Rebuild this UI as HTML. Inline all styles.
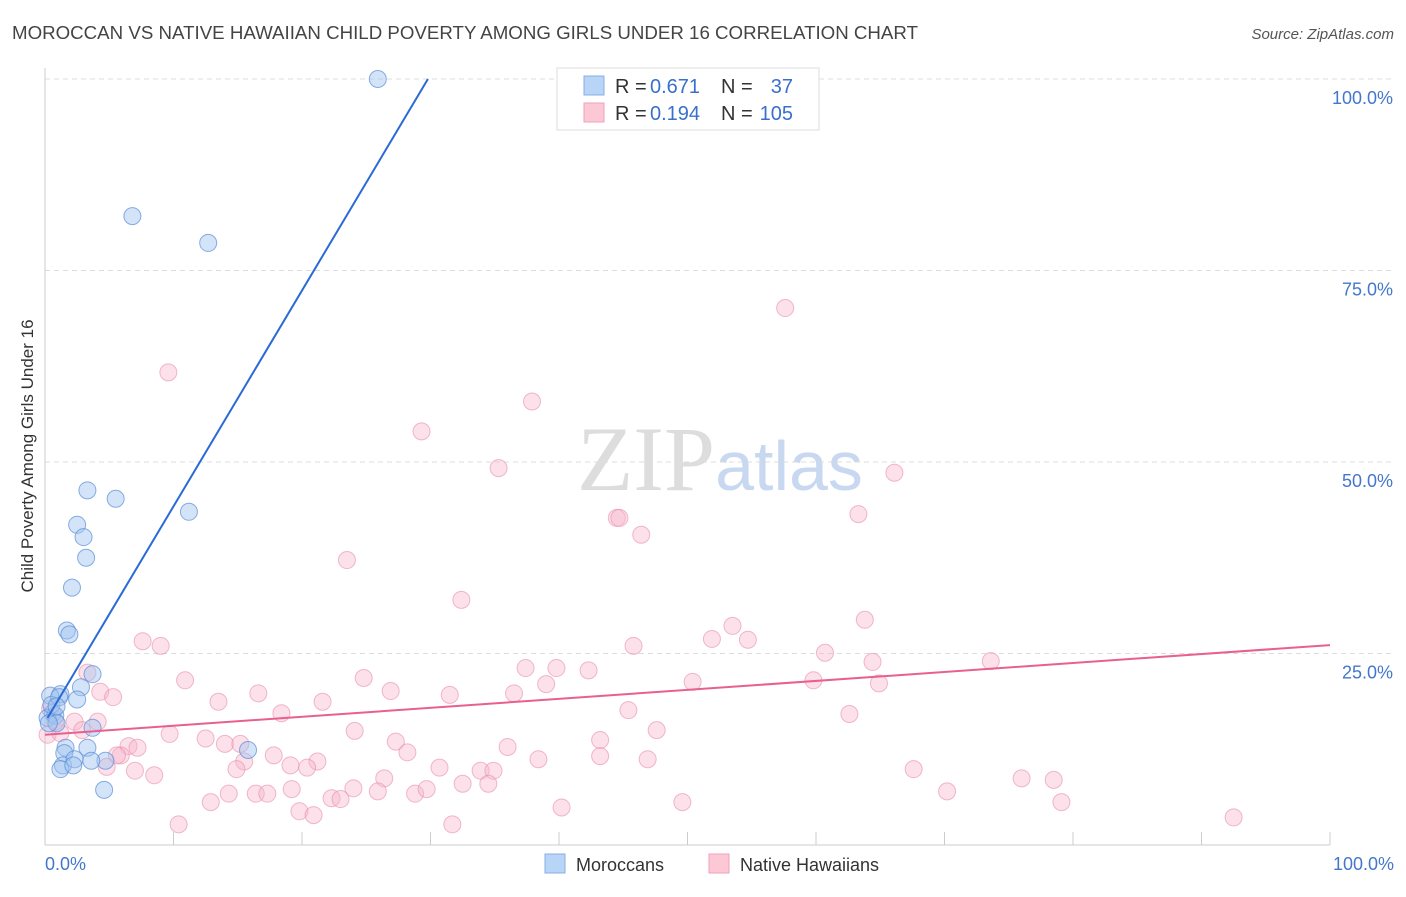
<!DOCTYPE html>
<html><head><meta charset="utf-8"><style>
body{margin:0;background:#fff;font-family:"Liberation Sans",sans-serif;}
svg text{font-family:"Liberation Sans",sans-serif;}
</style></head><body>
<svg id="chart" width="1406" height="892" xmlns="http://www.w3.org/2000/svg">
<text x="12" y="39" font-size="18" fill="#444" textLength="906" lengthAdjust="spacingAndGlyphs">MOROCCAN VS NATIVE HAWAIIAN CHILD POVERTY AMONG GIRLS UNDER 16 CORRELATION CHART</text>
<text x="1394" y="39" font-size="15" fill="#555" text-anchor="end" font-style="italic">Source: ZipAtlas.com</text>
<text x="720" y="490" font-size="92" text-anchor="middle"><tspan font-family="Liberation Serif,serif" fill="#ddd">ZIP</tspan><tspan fill="#c8d8f0" font-size="70">atlas</tspan></text>
<g id="grid"></g>
<line x1="45" y1="68" x2="45" y2="845" stroke="#ccc"/>
<line x1="45" y1="845" x2="1330" y2="845" stroke="#ccc"/>
<text transform="translate(33,456) rotate(-90)" font-size="17" fill="#333" text-anchor="middle">Child Poverty Among Girls Under 16</text>
<text x="45" y="870" font-size="18" fill="#4477cc">0.0%</text>
<text x="1394" y="870" font-size="18" fill="#4477cc" text-anchor="end">100.0%</text>
<g id="points"></g>
<g id="lines"></g>
<g>
<rect x="557" y="68" width="262" height="62" fill="#fff" stroke="#ddd"/>
<rect x="584" y="76" width="20" height="19" fill="#b8d4f6" stroke="#88aee6"/>
<rect x="584" y="103" width="20" height="19" fill="#fcc8d6" stroke="#f0a0bb"/>
<text x="615" y="93" font-size="20" fill="#333">R =</text>
<text x="650" y="93" font-size="20" fill="#3a70cc">0.671</text>
<text x="721" y="93" font-size="20" fill="#333">N =</text>
<text x="793" y="93" font-size="20" fill="#3a70cc" text-anchor="end">37</text>
<text x="615" y="120" font-size="20" fill="#333">R =</text>
<text x="650" y="120" font-size="20" fill="#3a70cc">0.194</text>
<text x="721" y="120" font-size="20" fill="#333">N =</text>
<text x="793" y="120" font-size="20" fill="#3a70cc" text-anchor="end">105</text>
</g>
<g>
<rect x="545" y="854" width="20" height="19" fill="#b8d4f6" stroke="#88aee6"/>
<text x="576" y="871" font-size="18" fill="#333">Moroccans</text>
<rect x="709" y="854" width="20" height="19" fill="#fcc8d6" stroke="#f0a0bb"/>
<text x="740" y="871" font-size="18" fill="#333">Native Hawaiians</text>
</g>
</svg>
<script>
const yTicks=[25,50,75,100];
const yTickLabels=["25.0%","50.0%","75.0%","100.0%"];
const xTicks=[10,20,30,40,50,60,70,80,90,100];
const blueX=[25.9,6.8,12.7,3.3,5.5,11.2,2.5,3.0,3.2,2.1,1.7,1.9,3.7,2.8,1.2,0.4,2.5,0.6,0.2,0.8,0.9,3.7,1.6,3.3,1.5,4.7,3.6,1.4,2.3,1.2,2.2,4.6,15.8,0.5,0.3,1.1,0.9];
const blueY=[100,82.1,78.6,46.3,45.2,43.5,41.8,40.2,37.5,33.6,28.0,27.5,22.3,20.6,19.7,19.5,19.0,17.2,16.6,16.9,15.9,15.3,12.7,12.7,12.0,11.0,11.0,10.4,11.2,9.9,10.4,7.2,12.4,18.3,15.9,19.3,18.1];
const pinkX=[57.6,9.6,37.9,29.3,35.3,66.1,44.5,44.7,46.4,63.3,23.5,32.4,7.6,9.0,45.8,51.9,53.5,54.7,63.8,60.7,64.4,73.6,64.9,59.8,50.4,10.9,24.8,37.4,39.8,42.3,39.0,36.5,31.5,26.9,21.6,16.6,13.5,4.3,5.3,3.3,45.4,47.6,62.6,18.4,0.2,2.3,1.2,2.9,6.5,7.2,5.9,5.6,4.8,7.0,8.5,9.7,12.5,14.0,15.2,15.5,14.9,17.8,21.2,19.1,20.4,24.1,27.3,28.2,30.7,33.9,34.9,36.0,38.4,43.2,43.2,46.9,26.4,24.0,25.9,28.8,29.7,32.5,34.5,16.4,17.3,19.2,22.3,23.0,19.8,20.9,12.9,14.3,40.2,49.6,67.6,70.2,76.0,78.5,79.1,92.5,10.4,31.7,0.8,0.4,4.1];
const pinkY=[70.1,61.7,57.9,54.0,49.2,48.6,42.7,42.7,40.5,43.2,37.2,32.0,26.6,26.0,26.0,26.9,28.6,26.8,29.4,25.1,23.9,24.0,21.1,21.5,21.3,21.5,21.8,23.1,23.1,22.8,21.0,19.8,19.6,20.1,18.7,19.8,18.7,20.0,19.3,22.5,17.6,15.0,17.1,17.2,14.4,16.1,14.6,15.0,12.9,12.7,11.7,11.7,10.2,9.7,9.1,14.5,13.9,13.2,13.2,10.9,9.9,11.7,10.9,10.4,10.1,14.9,13.5,12.1,10.1,9.7,9.7,12.8,11.2,13.7,11.6,11.2,8.7,7.4,7.0,6.7,7.3,8.0,8.0,6.7,6.7,7.3,6.1,6.0,4.4,3.9,5.6,6.7,4.9,5.6,9.9,7.0,8.7,8.5,5.6,3.6,2.7,2.7,16.1,17.8,16.1];
const blueLine=[0.2,16.6,29.8,100];
const pinkLine=[0,14.4,100,26.1];
const NS="http://www.w3.org/2000/svg";
const X=v=>45+v*12.85, Y=v=>845-v*7.66;
function mk(t,a,p){const e=document.createElementNS(NS,t);for(const k in a)e.setAttribute(k,a[k]);p.appendChild(e);return e;}
const grid=document.getElementById('grid');
yTicks.forEach((t,i)=>{
 const l=mk('line',{x1:45,x2:1394,y1:Y(t),y2:Y(t),stroke:'#ddd','stroke-dasharray':'5,4'},grid);
 
 
 const tx=mk('text',{x:1393,y:Y(t)+25,'font-size':18,fill:'#4477cc','text-anchor':'end'},grid);
 tx.textContent=yTickLabels[i];
 
 
});
xTicks.forEach(t=>{
 const l=mk('line',{x1:X(t),x2:X(t),y1:832,y2:845,stroke:'#ccc'},grid);
 
 
});
const pts=document.getElementById('points');
pinkX.forEach((v,i)=>{
 const c=mk('circle',{cx:X(v),cy:Y(pinkY[i]),r:8.5,fill:'rgba(248,180,202,0.4)',stroke:'rgba(232,140,172,0.6)','stroke-width':1},pts);
 
 
});
blueX.forEach((v,i)=>{
 const c=mk('circle',{cx:X(v),cy:Y(blueY[i]),r:8.5,fill:'rgba(160,196,240,0.45)',stroke:'rgba(90,140,215,0.7)','stroke-width':1},pts);
 
 
});
const ln=document.getElementById('lines');
const b=mk('line',{x1:X(blueLine[0]),y1:Y(blueLine[1]),x2:X(blueLine[2]),y2:Y(blueLine[3]),stroke:'#2a6ad6','stroke-width':2},ln);


const p=mk('line',{x1:X(pinkLine[0]),y1:Y(pinkLine[1]),x2:X(pinkLine[2]),y2:Y(pinkLine[3]),stroke:'#e8608f','stroke-width':2},ln);


</script>
</body></html>
